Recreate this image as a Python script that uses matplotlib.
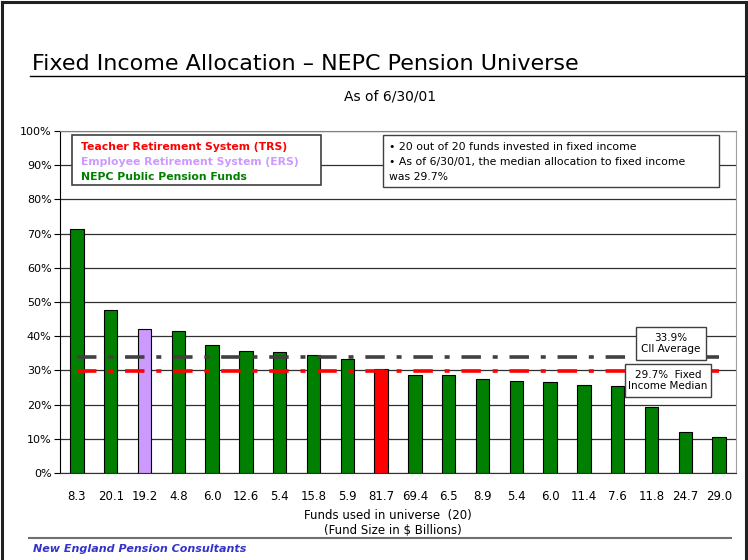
import numpy as np
import matplotlib
matplotlib.use("Agg")
import matplotlib.pyplot as plt
from matplotlib.patches import Rectangle
from matplotlib.lines import Line2D

plt.rcParams['font.family'] = ['DejaVu Sans']
plt.rcParams['lines.scale_dashes'] = False

# Fund sizes ($ billions) used as tick labels, and fixed income allocation (%)
fund_sizes = ["8.3", "20.1", "19.2", "4.8", "6.0", "12.6", "5.4", "15.8", "5.9", "81.7",
              "69.4", "6.5", "8.9", "5.4", "6.0", "11.4", "7.6", "11.8", "24.7", "29.0"]
allocation = [71.3, 47.7, 42.1, 41.5, 37.3, 35.6, 35.3, 34.4, 33.3, 30.4,
              28.7, 28.7, 27.5, 26.9, 26.5, 25.8, 25.5, 19.3, 12.1, 10.5]
fund_group = ["NEPC", "NEPC", "ERS", "NEPC", "NEPC", "NEPC", "NEPC", "NEPC", "NEPC", "TRS",
              "NEPC", "NEPC", "NEPC", "NEPC", "NEPC", "NEPC", "NEPC", "NEPC", "NEPC", "NEPC"]
cii_average = 33.9
fixed_income_median = 29.7

group_colors = {"TRS": "#FF0000", "ERS": "#CC99FF", "NEPC": "#007F00"}

W, H = 748, 560


def fx(x):
    return x / W


def fy(y):
    return 1 - y / H


fig = plt.figure(figsize=(W / 100, H / 100), dpi=100)
ax = fig.add_axes([fx(60), fy(473), (736 - 60) / W, (473 - 131) / H])

x = np.arange(len(allocation))
colors = [group_colors[g] for g in fund_group]
ax.bar(x, allocation, width=0.4, color=colors, edgecolor="black", linewidth=0.8, zorder=3)

# reference lines
ax.plot([x[0], x[-1]], [cii_average] * 2, color="#404040", lw=2.6,
        dashes=(14, 8.5, 3.6, 8.5), zorder=4)
ax.plot([x[0], x[-1]], [fixed_income_median] * 2, color="#FF0000", lw=2.6,
        dashes=(14, 8.5, 3.6, 8.5), zorder=4)

ax.set_xlim(-0.5, len(allocation) - 0.5)
ax.set_ylim(0, 100)
ax.set_yticks(np.arange(0, 101, 10))
ax.set_yticklabels([f"{v}%" for v in range(0, 101, 10)], fontsize=8)
ax.set_xticks(x)
ax.set_xticklabels(fund_sizes, fontsize=8.5)
ax.tick_params(axis="x", length=0, pad=12)
ax.tick_params(axis="y", length=4, width=0.8, pad=2)

ax.yaxis.grid(True, color="#303030", lw=0.9)
ax.set_axisbelow(True)
ax.spines["top"].set_color("#808080")
ax.spines["right"].set_color("#A0A0A0")
ax.spines["left"].set_color("black")
ax.spines["bottom"].set_color("#303030")

# legend box
fig.add_artist(Rectangle((fx(72), fy(185)), 249 / W, 50 / H, transform=fig.transFigure,
                         facecolor="white", edgecolor="#404040", lw=1.2, zorder=5))
legend_items = [("Teacher Retirement System (TRS)", group_colors["TRS"], 147),
                ("Employee Retirement System (ERS)", group_colors["ERS"], 162),
                ("NEPC Public Pension Funds", group_colors["NEPC"], 177)]
for label, c, yy in legend_items:
    fig.text(fx(81), fy(yy), label, color=c, fontsize=7.8, fontweight="bold",
             va="center", ha="left", zorder=6)

# note box
fig.add_artist(Rectangle((fx(383), fy(187)), 336 / W, 52 / H, transform=fig.transFigure,
                         facecolor="white", edgecolor="#404040", lw=1.0, zorder=5))
notes = ["\u2022 20 out of 20 funds invested in fixed income",
         "\u2022 As of 6/30/01, the median allocation to fixed income",
         "was 29.7%"]
for i, line in enumerate(notes):
    fig.text(fx(389), fy(147 + 15 * i), line, fontsize=7.8, va="center", ha="left", zorder=6)

# annotation boxes for the lines
fig.add_artist(Rectangle((fx(636), fy(360)), 70 / W, 33 / H, transform=fig.transFigure,
                         facecolor="white", edgecolor="#404040", lw=1.0, zorder=5))
fig.text(fx(671), fy(343.5), "33.9%\nCII Average", fontsize=7.5, ha="center", va="center",
         linespacing=1.15, zorder=6)
fig.add_artist(Rectangle((fx(625), fy(397)), 86 / W, 33 / H, transform=fig.transFigure,
                         facecolor="white", edgecolor="#404040", lw=1.0, zorder=5))
fig.text(fx(668), fy(380.5), "29.7%  Fixed\nIncome Median", fontsize=7.5, ha="center",
         va="center", linespacing=1.15, zorder=6)

# x axis caption
fig.text(fx(388), fy(516), "Funds used in universe  (20)", fontsize=8.5, ha="center", va="center")
fig.text(fx(393), fy(530), "(Fund Size in $ Billions)", fontsize=8.5, ha="center", va="center")

# title and subtitle
fig.text(fx(32), fy(70), "Fixed Income Allocation \u2013 NEPC Pension Universe", fontsize=16,
         ha="left", va="baseline")
fig.add_artist(Line2D([fx(30), fx(745)], [fy(76), fy(76)], transform=fig.transFigure,
                      color="black", lw=1.0))
fig.text(fx(390), fy(97), "As of 6/30/01", fontsize=10, ha="center", va="center")

# footer
fig.add_artist(Line2D([fx(29), fx(731)], [fy(537.5), fy(537.5)], transform=fig.transFigure,
                      color="#707070", lw=1.5))
fig.text(fx(33), fy(549), "New England Pension Consultants", fontsize=8, fontweight="bold",
         fontstyle="italic", color="#3333CC", ha="left", va="center")

# slide frame
for xs, ys in [([fx(2), fx(2)], [0, fy(2)]), ([fx(2), fx(746)], [fy(2), fy(2)]),
               ([fx(746), fx(746)], [fy(2), 0])]:
    fig.add_artist(Line2D(xs, ys, transform=fig.transFigure, color="#202020", lw=2.2))

fig.savefig("out.png", dpi=100)
